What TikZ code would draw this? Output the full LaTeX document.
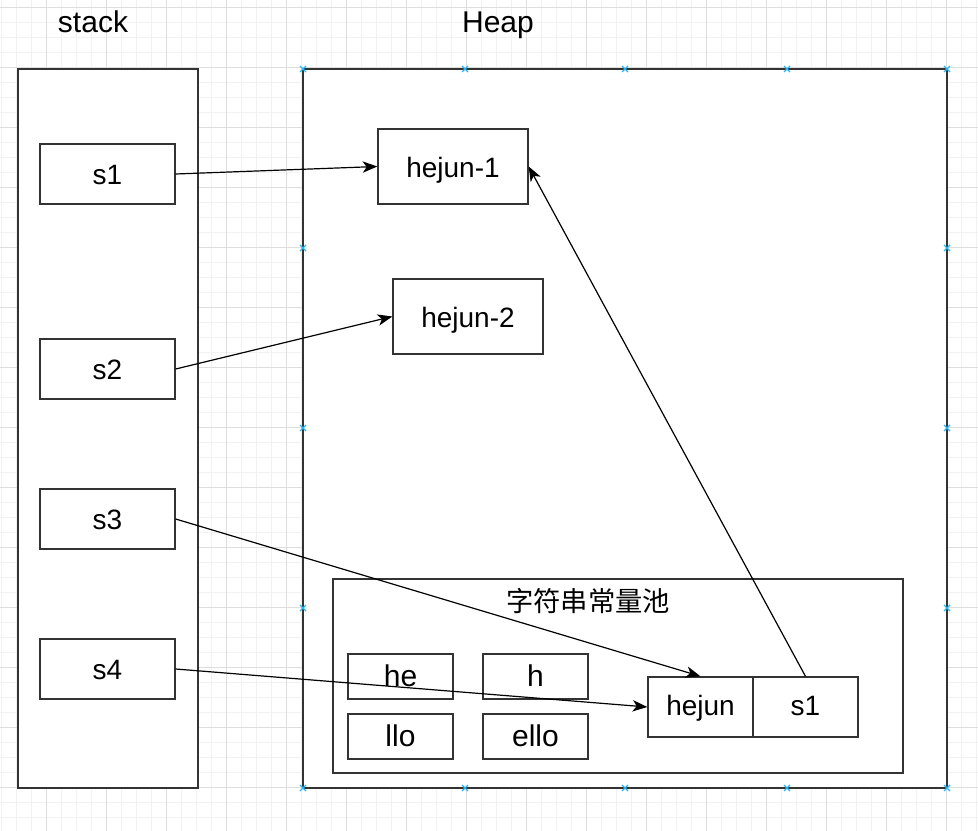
\documentclass[tikz,border=0pt]{standalone}
\usepackage{fontspec}
\setmainfont{Liberation Sans}
\newfontfamily\cjk{Noto Sans CJK SC}
\usetikzlibrary{arrows.meta}
\newlength\pxu
\setlength\pxu{0.75pt}
\definecolor{gridminor}{HTML}{F2F2F2}
\definecolor{gridmajor}{HTML}{DEDEDE}
\definecolor{stroke}{HTML}{333333}
\definecolor{handle}{HTML}{29B6F2}
\tikzset{
  boxst/.style={draw=stroke, line width=1pt, fill=white, inner sep=0pt, text height=18.8pt, text depth=3pt, font=\fontsize{21}{25}\selectfont},
  poolitem/.style={boxst, text height=18.3pt, text depth=3pt, font=\fontsize{22.5}{26}\selectfont},
  conn/.style={line width=0.9pt, -{Stealth[length=11pt,width=8.5pt,inset=3pt]}},
  lbl/.style={inner sep=0pt, text height=15.4pt, text depth=3pt, font=\fontsize{22.5}{26}\selectfont},
  hmark/.style={handle, line width=0.9pt}
}
\begin{document}
\begin{tikzpicture}[x=0.75pt,y=-0.75pt]
\useasboundingbox (0,0) rectangle (978,831);
\fill[white] (0,0) rectangle (978,831);
% grid
\foreach \gx in {1.7,16.7,...,978} {\draw[gridminor, line width=0.75pt] (\gx,0) -- (\gx,831);}
\foreach \gy in {7.7,22.7,...,831} {\draw[gridminor, line width=0.75pt] (0,\gy) -- (978,\gy);}
\foreach \gx in {46.7,106.7,...,978} {\draw[gridmajor, line width=0.75pt] (\gx,0) -- (\gx,831);}
\foreach \gy in {7.7,67.7,...,831} {\draw[gridmajor, line width=0.75pt] (0,\gy) -- (978,\gy);}
% titles
\node[lbl] (tstack) at (93,24) {stack};
\node[lbl] (theap) at (498,24) {Heap};
% containers
\node[boxst, minimum width=180*\pxu, minimum height=719*\pxu] (stack) at (108,428.5) {};
\node[boxst, minimum width=644*\pxu, minimum height=719*\pxu] (heap) at (625,428.5) {};
% stack items
\node[boxst, minimum width=135*\pxu, minimum height=60*\pxu] (s1) at (107.5,174) {s1};
\node[boxst, minimum width=135*\pxu, minimum height=60*\pxu] (s2) at (107.5,369) {s2};
\node[boxst, minimum width=135*\pxu, minimum height=60*\pxu] (s3) at (107.5,519) {s3};
\node[boxst, minimum width=135*\pxu, minimum height=60*\pxu] (s4) at (107.5,669) {s4};
% heap items
\node[boxst, minimum width=150*\pxu, minimum height=75*\pxu] (hj1) at (453,166.5) {hejun-1};
\node[boxst, minimum width=150*\pxu, minimum height=75*\pxu] (hj2) at (468,316.5) {hejun-2};
% pool
\node[boxst, minimum width=570*\pxu, minimum height=194*\pxu] (pool) at (618,676) {};
\node[inner sep=0pt, anchor=base, font=\fontsize{20.5}{24}\selectfont] (pooltitle) at (588,611.5) {\cjk 字符串常量池};
\node[poolitem, minimum width=105*\pxu, minimum height=45*\pxu] (he) at (400.5,676.5) {he};
\node[poolitem, minimum width=105*\pxu, minimum height=45*\pxu] (h) at (535.5,676.5) {h};
\node[poolitem, minimum width=105*\pxu, minimum height=45*\pxu] (llo) at (400.5,736.5) {llo};
\node[poolitem, minimum width=105*\pxu, minimum height=45*\pxu] (ello) at (535.5,736.5) {ello};
\node[boxst, text height=16pt, minimum width=105*\pxu, minimum height=60*\pxu] (hejun) at (700.5,707) {hejun};
\node[boxst, text height=16pt, minimum width=105*\pxu, minimum height=60*\pxu] (ps1) at (805.5,707) {s1};
% connectors
\draw[conn] (s1.east) -- (hj1.west);
\draw[conn] (s2.east) -- (hj2.west);
\draw[conn] (s3.east) -- (hejun.north);
\draw[conn] (s4.east) -- (hejun.west);
\draw[conn] (ps1.north) -- (hj1.east);
% selection handles
\foreach \hx in {303,465,625,787,947} {
  \draw[hmark] (\hx-3,66) -- (\hx+3,72) (\hx-3,72) -- (\hx+3,66);
  \draw[hmark] (\hx-3,785) -- (\hx+3,791) (\hx-3,791) -- (\hx+3,785);
}
\foreach \hy in {248,428,608} {
  \draw[hmark] (300,\hy-3) -- (306,\hy+3) (300,\hy+3) -- (306,\hy-3);
  \draw[hmark] (944,\hy-3) -- (950,\hy+3) (944,\hy+3) -- (950,\hy-3);
}
\end{tikzpicture}
\end{document}
